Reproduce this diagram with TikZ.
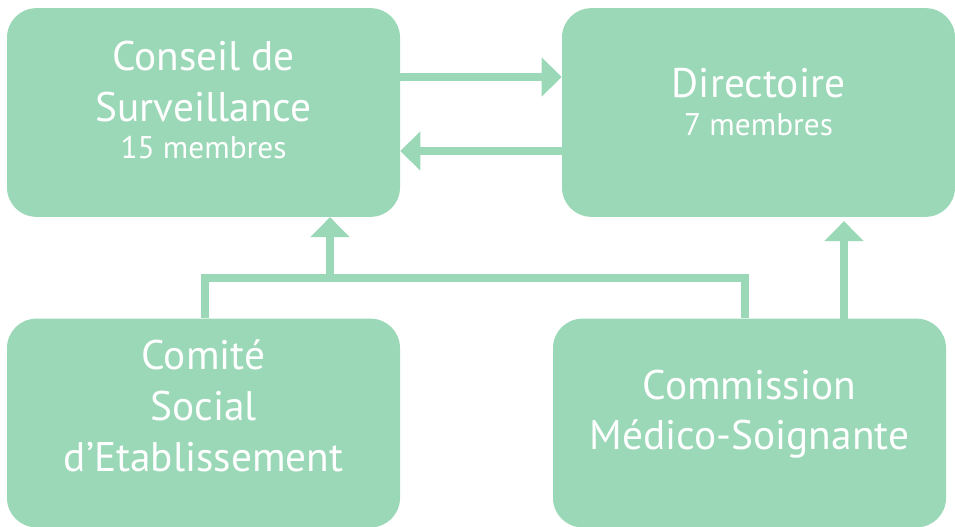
\documentclass[tikz,border=0pt]{standalone}
\usepackage{fontspec}
\setmainfont{PT Sans}
\usetikzlibrary{arrows.meta,calc}

\definecolor{mint}{RGB}{155,216,183}
\newcommand{\membres}{\fontsize{23.5}{28.5}\selectfont}

\begin{document}
\begin{tikzpicture}[x=0.75pt,y=-0.75pt,
    organ/.style={fill=mint, rounded corners=22pt, minimum width=294.75pt,
        minimum height=156.5pt, inner sep=0pt, text=white, align=center,
        font=\fontsize{31}{38}\selectfont},
    link/.style={draw=mint, line width=6pt, -{Triangle[length=15pt,width=28.5pt]}},
    bar/.style={draw=mint, line width=6pt}]
    \useasboundingbox (0,0) rectangle (955,527);

    \node[organ, text depth=18.75pt] (conseil) at (203.5,112.5)
        {Conseil de\\Surveillance\\[-9.75pt]\membres 15 membres};
    \node[organ, text depth=15.75pt] (directoire) at (758.5,112.5)
        {Directoire\\[-9pt]\membres 7 membres};

    \node[organ, text depth=26pt] (comite) at (203.5,423)
        {Comité\\Social\\d’Etablissement};
    \node[organ, text depth=20pt] (commission) at (749.5,423)
        {Commission\\Médico-Soignante};

    % conseil <-> directoire
    \draw[link] ($(conseil.east)+(0,-35.5)$) -- ($(directoire.west)+(0,-35.5)$);
    \draw[link] ($(directoire.west)+(0,38.5)$) -- ($(conseil.east)+(0,38.5)$);

    % comite + commission -> conseil
    \coordinate (fork) at (330,277.5);
    \draw[bar] ($(comite.north)+(1.5,0)$) |- (fork) -| ($(commission.north)+(-4.5,0)$);
    \draw[link] (fork) -- (fork |- conseil.south);

    % commission -> directoire
    \draw[link, shorten >=3pt] ($(commission.north)+(94.5,2)$) -- ($(directoire.south)+(85.5,0)$);

\end{tikzpicture}
\end{document}
